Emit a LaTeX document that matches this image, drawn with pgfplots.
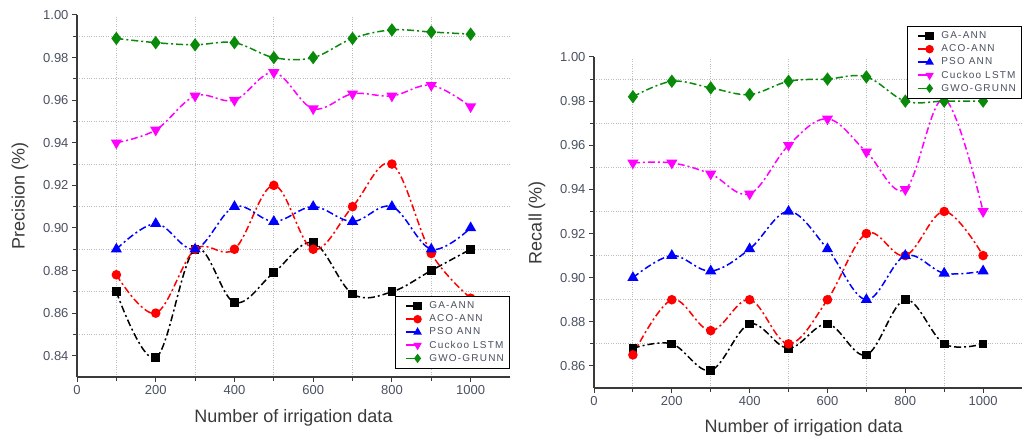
\documentclass[border=0pt]{standalone}
\usepackage{fontspec}
\setmainfont{Liberation Sans}
\usepackage{pgfplots}
\usepackage{pgfplotstable}
\pgfplotsset{compat=1.18}

\definecolor{cga}{HTML}{000000}
\definecolor{caco}{HTML}{FF0000}
\definecolor{cpso}{HTML}{0000FF}
\definecolor{ccuc}{HTML}{FF00FF}
\definecolor{cgwo}{HTML}{0A8A0A}
\definecolor{axisc}{HTML}{3A3A3A}
\definecolor{tickc}{HTML}{4A5160}
\definecolor{gridc}{HTML}{BBBBBB}

% precision (left)
\pgfplotstableread{
n    ga     aco    pso    cuc    gwo
100  0.870  0.878  0.890  0.940  0.989
200  0.839  0.860  0.902  0.946  0.987
300  0.890  0.890  0.890  0.962  0.986
400  0.865  0.890  0.910  0.960  0.987
500  0.879  0.920  0.903  0.973  0.980
600  0.893  0.890  0.910  0.956  0.980
700  0.869  0.910  0.903  0.963  0.989
800  0.870  0.930  0.910  0.962  0.993
900  0.880  0.888  0.890  0.967  0.992
1000 0.890  0.867  0.900  0.957  0.991
}\prectab

% recall (right)
\pgfplotstableread{
n    ga     aco    pso    cuc    gwo
100  0.868  0.865  0.900  0.952  0.982
200  0.870  0.890  0.910  0.952  0.989
300  0.858  0.876  0.903  0.947  0.986
400  0.879  0.890  0.913  0.938  0.983
500  0.868  0.870  0.930  0.960  0.989
600  0.879  0.890  0.913  0.972  0.990
700  0.865  0.920  0.890  0.957  0.991
800  0.890  0.910  0.910  0.940  0.980
900  0.870  0.930  0.902  0.981  0.980
1000 0.870  0.910  0.903  0.930  0.980
}\rectab

\pgfplotsset{
  irr/.style={
    scale only axis,
    axis x line*=bottom, axis y line*=left,
    axis line style={axisc,line width=1.1pt,-},
    xmin=0,xmax=1100,
    xtick={0,200,...,1000},minor x tick num=1,
    minor tick num=1,
    tick align=outside,
    major tick length=5pt,minor tick length=4pt,
    every tick/.style={axisc,line width=1pt},
    minor grid style={gridc,dotted,line width=0.9pt},
    xminorgrids,yminorgrids,
    tick label style={font=\fontsize{13}{15}\selectfont,color=tickc},
    /pgf/number format/assume math mode=true,
    xticklabel style={/pgf/number format/.cd,set thousands separator={}},
    yticklabel style={/pgf/number format/.cd,fixed,fixed zerofill,precision=2},
    label style={font=\fontsize{18}{20}\selectfont,color=axisc},
    legend style={draw=black,line width=0.9pt,fill=white,
      font=\fontsize{10}{12}\selectfont\addfontfeature{LetterSpace=12},
      text=tickc,inner xsep=4pt,inner ysep=4pt,row sep=1.3pt,
      nodes={inner sep=1.6pt}},
    legend cell align=left,
    legend image post style={solid,line width=1.6pt,mark size=3.4pt},
    legend image code/.code={
      \path (0cm,0cm) (0.95cm,0cm);
      \draw[mark repeat=2,mark phase=2,#1] plot coordinates {(0.2cm,0cm) (0.62cm,0cm) (0.62cm,0cm)};},
    every axis plot/.append style={line width=1.5pt,
      dash pattern=on 7pt off 3pt on 2pt off 3pt,smooth,tension=0.6},
  },
  sga/.style={cga,mark=square*,mark size=3.6pt,mark options={solid}},
  saco/.style={caco,mark=*,mark size=4pt,mark options={solid}},
  spso/.style={cpso,mark=triangle*,mark size=5pt,mark options={solid}},
  scuc/.style={ccuc,mark=triangle*,mark size=5pt,mark options={solid,rotate=180}},
  sgwo/.style={cgwo,mark=diamond*,mark size=5.5pt,mark options={solid}},
}

\begin{document}
\begin{tikzpicture}[x=1pt,y=1pt]
\path[use as bounding box] (0,0) rectangle (1024,436);

\begin{axis}[irr,
  at={(77pt,59pt)},anchor=south west,
  width=433pt,height=362pt,
  ymin=0.83,ymax=1.00,ytick={0.84,0.86,...,1.001},
  xlabel={Number of irrigation data},ylabel={Precision (\%)},
  xlabel style={at={(axis description cs:0.50,-0.113)},anchor=center},
  ylabel style={at={(axis description cs:-0.132,0.5)},anchor=center},
  legend style={at={(axis description cs:1.0,0.224)},anchor=north east},
]
\addplot[sga] table[x=n,y=ga]{\prectab};
\addplot[saco] table[x=n,y=aco]{\prectab};
\addplot[spso] table[x=n,y=pso]{\prectab};
\addplot[scuc] table[x=n,y=cuc]{\prectab};
\addplot[sgwo] table[x=n,y=gwo]{\prectab};
\legend{GA-ANN,ACO-ANN,PSO ANN,Cuckoo LSTM,GWO-GRUNN}
\end{axis}

\begin{axis}[irr,
  at={(594pt,48pt)},anchor=south west,
  width=428pt,height=331pt,
  ymin=0.85,ymax=1.00,ytick={0.86,0.88,...,1.001},
  xlabel={Number of irrigation data},ylabel={Recall (\%)},
  xlabel style={at={(axis description cs:0.49,-0.121)},anchor=center},
  ylabel style={at={(axis description cs:-0.133,0.5)},anchor=center},
  legend style={at={(axis description cs:1.0,1.094)},anchor=north east},
]
\addplot[sga] table[x=n,y=ga]{\rectab};
\addplot[saco] table[x=n,y=aco]{\rectab};
\addplot[spso] table[x=n,y=pso]{\rectab};
\addplot[scuc] table[x=n,y=cuc]{\rectab};
\addplot[sgwo] table[x=n,y=gwo]{\rectab};
\legend{GA-ANN,ACO-ANN,PSO ANN,Cuckoo LSTM,GWO-GRUNN}
\end{axis}
\end{tikzpicture}
\end{document}
